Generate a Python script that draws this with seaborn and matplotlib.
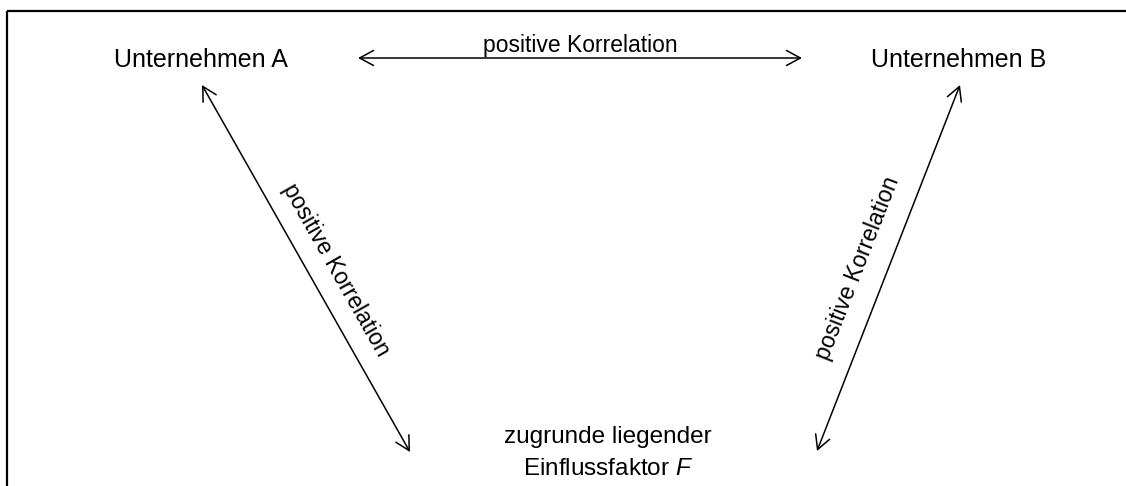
import math
import matplotlib
matplotlib.use("Agg")
import matplotlib.pyplot as plt
import seaborn as sns

# ---- data (diagram content) ----
node_labels = ["Unternehmen A", "Unternehmen B"]
factor_lines = ["zugrunde liegender", "Einflussfaktor $\\it{F}$"]
edge_label = "positive Korrelation"

# layout (pixel coordinates of the 1126x486 canvas, y downward)
node_xy = [(201, 67), (959, 67)]
factor_xy = [(608, 443), (608, 475)]
edges = [((358, 58), (802, 58)),      # A <-> B
         ((202, 85), (410, 452)),     # A <-> F
         ((817, 451), (960, 85))]     # F <-> B
edge_label_xy = [(580, 52), (336, 270), (858, 268)]

sns.set_theme(style="white")
plt.rcParams["font.family"] = ["Liberation Sans", "DejaVu Sans"]
plt.rcParams["mathtext.fontset"] = "custom"
plt.rcParams["mathtext.it"] = "Liberation Sans:italic"
plt.rcParams["mathtext.rm"] = "Liberation Sans"

W, H = 1126, 486
fig = plt.figure(figsize=(W / 100, H / 100), dpi=100)
ax = fig.add_axes([0, 0, 1, 1])
ax.set_xlim(0, W)
ax.set_ylim(H, 0)
ax.axis("off")

# frame (top and left border)
ax.plot([7, W], [11, 11], color="black", lw=1.6, solid_capstyle="butt")
ax.plot([7, 7], [11, H], color="black", lw=1.6, solid_capstyle="butt")

# nodes
for lab, (x, y) in zip(node_labels, node_xy):
    ax.text(x, y, lab, ha="center", va="baseline", fontsize=18, color="black")
for lab, (x, y) in zip(factor_lines, factor_xy):
    ax.text(x, y, lab, ha="center", va="baseline", fontsize=17.5, color="black")

# arrows
for (p1, p2) in edges:
    ax.annotate("", xy=p2, xytext=p1,
                arrowprops=dict(arrowstyle="<->,head_length=0.5,head_width=0.27",
                                color="black", lw=1.1, shrinkA=0, shrinkB=0,
                                mutation_scale=20))

# edge labels
for i, ((p1, p2), (tx, ty)) in enumerate(zip(edges, edge_label_xy)):
    if i == 0:
        ax.text(tx, ty, edge_label, ha="center", va="baseline", fontsize=16.5, color="black")
    else:
        if p2[1] < p1[1]:
            p1, p2 = p2, p1
        dx = p2[0] - p1[0]
        dy = p2[1] - p1[1]
        ang = math.degrees(math.atan2(-dy, dx))
        if ang < -90:
            ang += 180
        ax.text(tx, ty, edge_label, ha="center", va="center", fontsize=16.5,
                rotation=ang, rotation_mode="anchor", color="black")

fig.savefig("out.png", dpi=100)
